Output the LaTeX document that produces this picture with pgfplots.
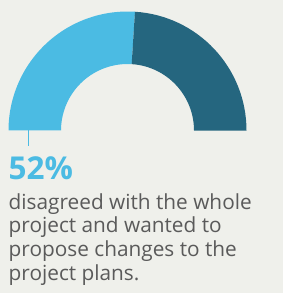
\documentclass[border=0pt]{standalone}
\usepackage{pgfplots}
\pgfplotsset{compat=1.18}
\usepackage{pgfplotstable}
\usepackage{fontspec}
\setmainfont{Open Sans}
\definecolor{bg}{HTML}{EFF0EB}
\definecolor{lightblue}{HTML}{4BBBE3}
\definecolor{darkteal}{HTML}{25667F}
\definecolor{txt}{HTML}{5A5A5A}
\pgfplotstableread{
label value
disagreed 52
other 48
}\datatable
\begin{document}
\begin{tikzpicture}
\fill[bg] (0,0) rectangle (283bp,293bp);
\begin{axis}[
  at={(0,0)}, anchor=south west,
  x=1bp, y=1bp,
  xmin=0, xmax=283, ymin=0, ymax=293,
  hide axis, clip=false,
]
\pgfplotstablegetelem{0}{value}\of\datatable
\pgfmathsetmacro{\va}{\pgfplotsretval}
\pgfmathsetmacro{\angA}{180-\va*1.8}
% light blue sector
\fill[lightblue] (axis cs:8.5,162.5) arc[start angle=180, end angle=\angA, radius=119bp]
  -- ++({\angA}:-52.5bp) arc[start angle=\angA, end angle=180, radius=66.5bp] -- cycle;
% dark sector
\fill[darkteal] (axis cs:{127.5+119*cos(\angA)},{162.5+119*sin(\angA)}) arc[start angle=\angA, end angle=0, radius=119bp]
  -- ++(-52.5bp,0) arc[start angle=0, end angle=\angA, radius=66.5bp] -- cycle;
\draw[lightblue, line width=1.2bp] (axis cs:28.7,162.5) -- (axis cs:28.7,146.5);
\node[anchor=base west, inner sep=0pt, text=lightblue, font=\fontsize{31.5bp}{31.5bp}\selectfont\bfseries] at (axis cs:8.5,114) {52\%};
\node[anchor=base west, inner sep=0pt, text=txt, font=\fontsize{20.8bp}{23.7bp}\selectfont] at (axis cs:8.5,84) {disagreed with the whole};
\node[anchor=base west, inner sep=0pt, text=txt, font=\fontsize{20.8bp}{23.7bp}\selectfont] at (axis cs:8.5,60.5) {project and wanted to};
\node[anchor=base west, inner sep=0pt, text=txt, font=\fontsize{20.8bp}{23.7bp}\selectfont] at (axis cs:8.5,37) {propose changes to the};
\node[anchor=base west, inner sep=0pt, text=txt, font=\fontsize{20.8bp}{23.7bp}\selectfont] at (axis cs:8.5,13) {project plans.};
\end{axis}
\end{tikzpicture}
\end{document}
